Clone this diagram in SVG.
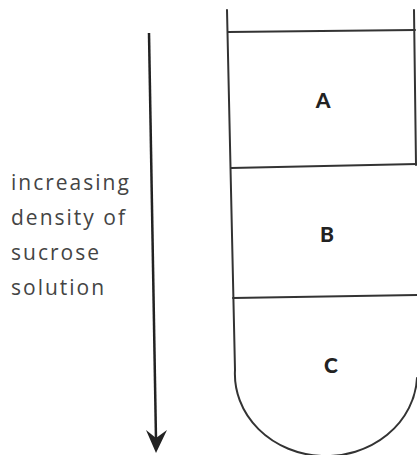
<svg xmlns="http://www.w3.org/2000/svg" width="417" height="455" viewBox="0 0 417 455">
<style>
.w{fill:none;stroke:#333;stroke-width:2;stroke-linecap:round}
.l{font-family:Lato,"Open Sans",sans-serif;font-size:21px;font-weight:900;fill:#222;text-anchor:middle}
.t{font-family:"Open Sans",Lato,sans-serif;font-size:21px;fill:#444;letter-spacing:2px}
</style>
<g id="tube">
<path class="w" d="M227,10 L235,370 A91,82 0 0 0 417,378"/>
<path class="w" d="M414,10 L416,165"/>
</g>
<g id="layerA">
<path class="w" d="M228,32 L415,30"/>
<text class="l" x="323" y="108">A</text>
</g>
<g id="layerB">
<path class="w" d="M231,168 L417,164"/>
<text class="l" x="327" y="242">B</text>
</g>
<g id="layerC">
<path class="w" d="M233,298 L417,295"/>
<text class="l" x="331" y="373">C</text>
</g>
<g id="connectors">
<line x1="149" y1="33" x2="156" y2="440" stroke="#222" stroke-width="2.5"/>
<path d="M146,430 L156,453 L167,430 L156,438 Z" fill="#222"/>
</g>
<g id="label">
<text class="t" x="11" y="190">increasing</text>
<text class="t" x="11" y="225">density of</text>
<text class="t" x="11" y="260">sucrose</text>
<text class="t" x="11" y="295">solution</text>
</g>
</svg>
